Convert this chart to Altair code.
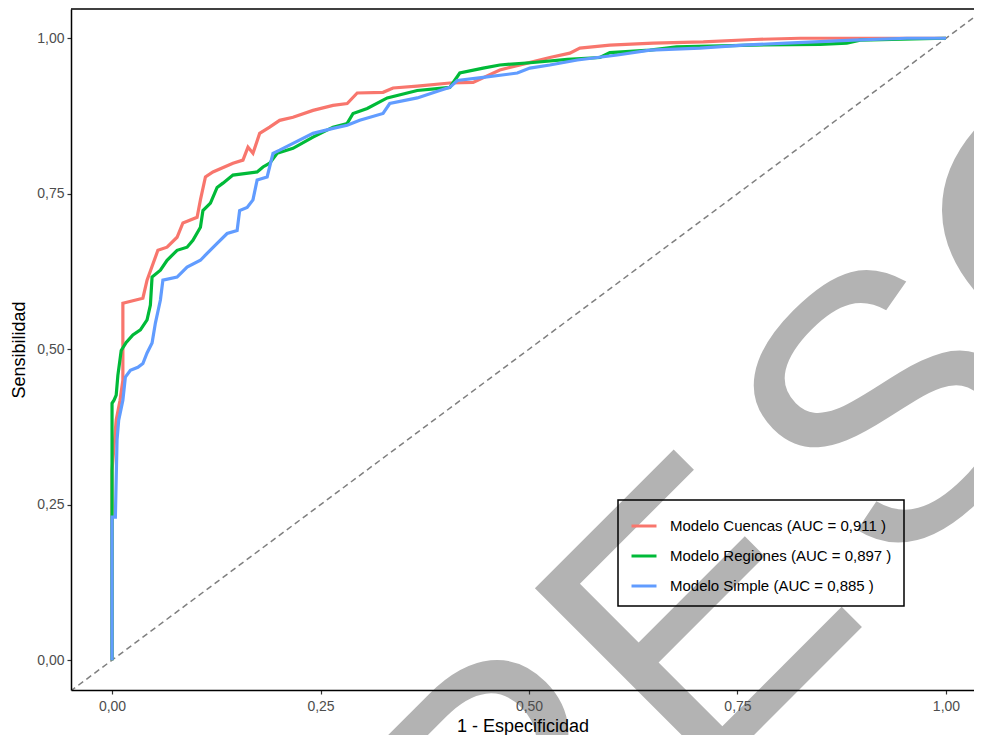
import altair as alt
import pandas as pd

# ---- data ----
series_names = [
    "Modelo Cuencas (AUC = 0,911 )",
    "Modelo Regiones (AUC = 0,897 )",
    "Modelo Simple (AUC = 0,885 )",
]
series_colors = ["#F8766D", "#00BA38", "#619CFF"]

cuencas_fpr = [0, 0, 0.005, 0.0096, 0.013, 0.013, 0.037, 0.042, 0.055, 0.066, 0.078, 0.085,
               0.102, 0.106, 0.112, 0.121, 0.145, 0.157, 0.163, 0.169, 0.177, 0.189, 0.201, 0.217,
               0.241, 0.265, 0.282, 0.294, 0.325, 0.337, 0.366, 0.405, 0.433, 0.465, 0.498, 0.525,
               0.549, 0.561, 0.597, 0.649, 0.709, 0.769, 0.825, 1.0]
cuencas_tpr = [0, 0.305, 0.386, 0.418, 0.450, 0.574, 0.582, 0.611, 0.659, 0.664, 0.680, 0.703,
               0.712, 0.740, 0.777, 0.785, 0.799, 0.804, 0.825, 0.815, 0.847, 0.857, 0.868, 0.873,
               0.884, 0.892, 0.895, 0.912, 0.913, 0.920, 0.923, 0.928, 0.929, 0.949, 0.960, 0.969,
               0.976, 0.984, 0.989, 0.992, 0.994, 0.998, 1.0, 1.0]

regiones_fpr = [0, 0, 0, 0.0024, 0.005, 0.007, 0.011, 0.017, 0.025, 0.034, 0.042, 0.046,
                0.048, 0.058, 0.066, 0.078, 0.090, 0.097, 0.106, 0.109, 0.118, 0.126, 0.133, 0.145,
                0.174, 0.181, 0.189, 0.198, 0.217, 0.241, 0.265, 0.282, 0.289, 0.306, 0.330, 0.366,
                0.405, 0.417, 0.445, 0.465, 0.505, 0.546, 0.585, 0.597, 0.645, 0.677, 0.769, 0.849,
                0.881, 0.897, 1.0]
regiones_tpr = [0, 0.23, 0.413, 0.418, 0.426, 0.458, 0.498, 0.511, 0.523, 0.531, 0.547, 0.571,
                0.616, 0.627, 0.643, 0.659, 0.664, 0.675, 0.696, 0.723, 0.735, 0.760, 0.767, 0.780,
                0.785, 0.793, 0.799, 0.815, 0.823, 0.841, 0.857, 0.863, 0.879, 0.887, 0.904, 0.916,
                0.921, 0.944, 0.952, 0.957, 0.961, 0.966, 0.969, 0.977, 0.981, 0.986, 0.989, 0.990,
                0.992, 0.997, 1.0]

simple_fpr = [0, 0, 0.004, 0.006, 0.008, 0.013, 0.016, 0.022, 0.031, 0.037, 0.042, 0.048,
              0.052, 0.058, 0.061, 0.078, 0.090, 0.106, 0.114, 0.126, 0.138, 0.150, 0.153, 0.162,
              0.169, 0.174, 0.186, 0.193, 0.201, 0.217, 0.241, 0.265, 0.282, 0.297, 0.325, 0.333,
              0.366, 0.393, 0.405, 0.414, 0.445, 0.486, 0.501, 0.525, 0.558, 0.606, 0.645, 0.705,
              0.757, 0.809, 0.889, 0.953, 1.0]
simple_tpr = [0, 0.23, 0.23, 0.354, 0.386, 0.418, 0.455, 0.466, 0.471, 0.477, 0.494, 0.510,
              0.542, 0.579, 0.611, 0.616, 0.632, 0.643, 0.654, 0.670, 0.686, 0.691, 0.723, 0.728,
              0.740, 0.772, 0.777, 0.815, 0.820, 0.831, 0.847, 0.855, 0.860, 0.868, 0.879, 0.895,
              0.904, 0.916, 0.921, 0.932, 0.937, 0.944, 0.952, 0.957, 0.965, 0.973, 0.981, 0.984,
              0.989, 0.992, 0.997, 1.0, 1.0]

tick_values = [0, 0.25, 0.5, 0.75, 1.0]
diag_x = [-0.05, 1.05]
watermark_parts = ["RE", "SO"]

# ---- build table ----
rows = []
for name, fx, ty in zip(series_names,
                        [cuencas_fpr, regiones_fpr, simple_fpr],
                        [cuencas_tpr, regiones_tpr, simple_tpr]):
    for i, (a, b) in enumerate(zip(fx, ty)):
        rows.append({"modelo": name, "fpr": a, "tpr": b, "idx": i})
df = pd.DataFrame(rows)
diag = pd.DataFrame({"x": diag_x, "y": diag_x})
wm1 = pd.DataFrame({"t": [watermark_parts[0]]})
wm2 = pd.DataFrame({"t": [watermark_parts[1]]})

W, H = 903, 681
FONT = "Liberation Sans"
xdom = [-0.0492, 1.0336]
ydom = [-0.048, 1.047]
lab = "replace(format(datum.value, '.2f'), '.', ',')"

xscale = alt.Scale(domain=xdom, nice=False, zero=False)
yscale = alt.Scale(domain=ydom, nice=False, zero=False)

wm_style = dict(angle=315, fontSize=376, font=FONT, color="#b3b3b3",
                align="left", baseline="alphabetic")
watermark1 = alt.Chart(wm1).mark_text(**wm_style).encode(
    text="t:N", x=alt.value(433), y=alt.value(976))
watermark2 = alt.Chart(wm2).mark_text(**wm_style).encode(
    text="t:N", x=alt.value(818), y=alt.value(577))

diag_line = alt.Chart(diag).mark_line(
    color="#7f7f7f", strokeDash=[6, 4], strokeWidth=1.5, clip=True
).encode(x=alt.X("x:Q", scale=xscale), y=alt.Y("y:Q", scale=yscale))

lines = alt.Chart(df).mark_line(strokeWidth=3.2, clip=True).encode(
    x=alt.X("fpr:Q", scale=xscale, title="1 - Especificidad",
            axis=alt.Axis(values=tick_values, labelExpr=lab, grid=False, zindex=1)),
    y=alt.Y("tpr:Q", scale=yscale, title="Sensibilidad",
            axis=alt.Axis(values=tick_values, labelExpr=lab, grid=False, zindex=1)),
    color=alt.Color("modelo:N", sort=series_names,
                    scale=alt.Scale(domain=series_names, range=series_colors),
                    legend=alt.Legend(title=None, orient="none", legendX=547, legendY=491,
                                      symbolType="stroke", symbolSize=625, symbolStrokeWidth=3,
                                      labelFontSize=15, labelOffset=12, rowPadding=8,
                                      padding=12, strokeColor="black", labelColor="black",
                                      labelFont=FONT, labelLimit=400)),
    order="idx:Q",
)

top_border = alt.Chart(wm1).mark_rule(color="black", strokeWidth=1.5).encode(
    x=alt.value(0), x2=alt.value(W), y=alt.value(0)
)

chart = alt.layer(watermark1, watermark2, diag_line, lines, top_border).properties(
    width=W, height=H,
    padding={"left": 63, "top": 1, "right": 0, "bottom": 45},
    autosize=alt.AutoSizeParams(type="none"),
).configure_view(stroke=None).configure_axis(
    domainColor="black", domainWidth=1.5, tickColor="#333333", tickWidth=1.2, tickSize=4,
    labelColor="#4d4d4d", labelFontSize=14, labelFont=FONT, labelPadding=4,
    titleFont=FONT, titleFontSize=18, titleFontWeight="normal", titleColor="black",
).configure_axisX(titlePadding=4, labelPadding=5).configure_axisY(titlePadding=8, labelPadding=3
).configure_legend(strokeWidth=1.5)

chart.save("out.html", embed_options={"renderer": "svg", "actions": False})
